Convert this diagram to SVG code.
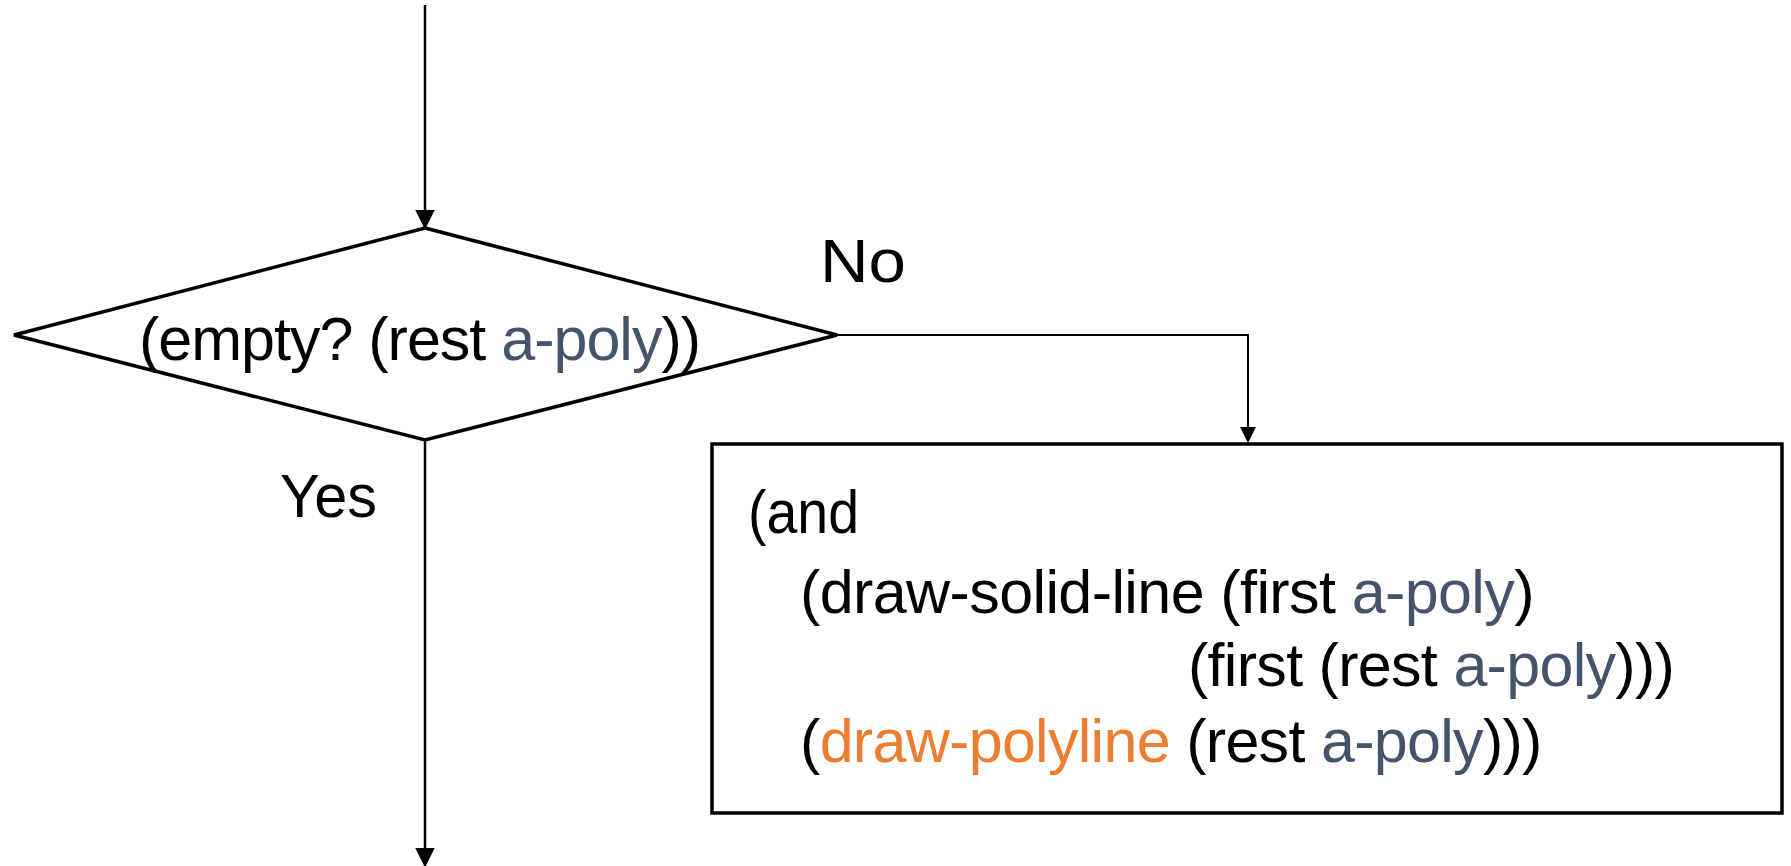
<svg xmlns="http://www.w3.org/2000/svg" width="1791" height="866" viewBox="0 0 1791 866">
<defs>
<style>
.t{font-family:"Liberation Sans",Arial,sans-serif;font-size:61px;fill:#000;letter-spacing:-0.7px}
.v{fill:#44546A}
.o{fill:#ED7D31}
.shape{fill:#fff;stroke:#000;stroke-width:3.5}
.c{fill:none;stroke:#000;stroke-width:2.5}
</style>
<marker id="ah" markerWidth="8" markerHeight="8" refX="7" refY="4" orient="auto" markerUnits="strokeWidth">
<path d="M0,0 L8,4 L0,8 Z" fill="#000"/>
</marker>
</defs>
<rect width="1791" height="866" fill="#fff"/>
<g id="connectors">
<line class="c" x1="425" y1="5" x2="425" y2="227" marker-end="url(#ah)"/>
<polyline class="c" points="837,335 1248,335 1248,441" marker-end="url(#ah)" style="stroke-width:2"/>
<line class="c" x1="425" y1="440" x2="425" y2="865" marker-end="url(#ah)"/>
</g>
<g id="decision">
<polygon class="shape" points="425,228 837,335 425,440 14,335"/>
<text class="t" x="139" y="360" style="letter-spacing:-1px">(empty? (rest <tspan class="v">a-poly</tspan>))</text>
</g>
<g id="labels">
<text class="t" x="820" y="282" textLength="86" lengthAdjust="spacingAndGlyphs" style="letter-spacing:0">No</text>
<text class="t" x="280" y="517" textLength="97" lengthAdjust="spacingAndGlyphs" style="letter-spacing:0">Yes</text>
</g>
<g id="action">
<rect class="shape" x="712" y="444" width="1070" height="369"/>
<text class="t" x="748" y="533" textLength="111" lengthAdjust="spacingAndGlyphs" style="letter-spacing:0">(and</text>
<text class="t" x="800" y="613" style="letter-spacing:-0.6px">(draw-solid-line (first <tspan class="v">a-poly</tspan>)</text>
<text class="t" x="1188" y="686">(first (rest <tspan class="v">a-poly</tspan>)))</text>
<text class="t" x="800" y="762">(<tspan class="o">draw-polyline</tspan> (rest <tspan class="v">a-poly</tspan>)))</text>
</g>
</svg>
